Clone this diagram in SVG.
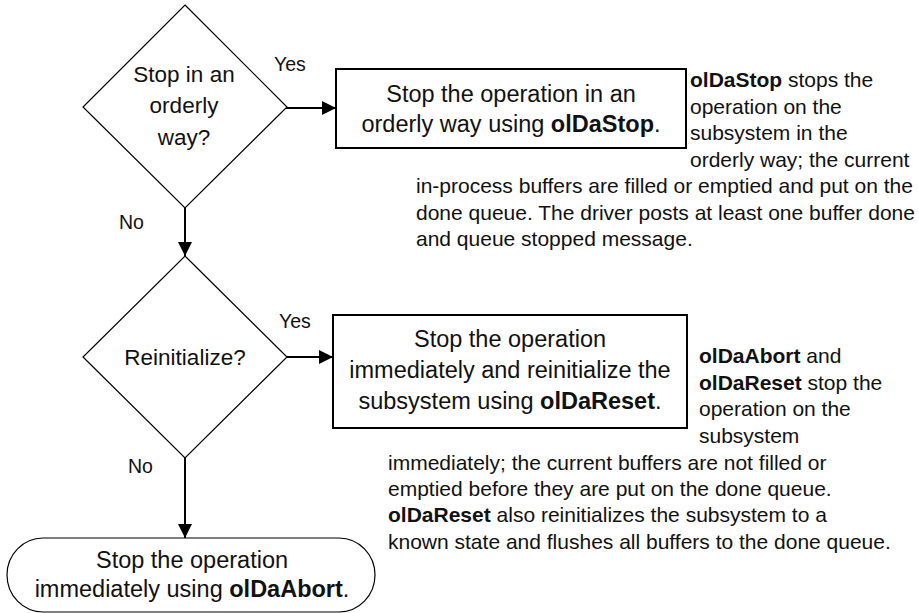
<svg xmlns="http://www.w3.org/2000/svg" width="919" height="613" viewBox="0 0 919 613">
<defs>
<marker id="arr" viewBox="0 0 14 14" refX="14" refY="7" markerWidth="14" markerHeight="14" markerUnits="userSpaceOnUse" orient="auto">
<path d="M0,0 L14,7 L0,14 Z" fill="#000"/>
</marker>
<style>
text{font-family:"Liberation Sans",Arial,Helvetica,sans-serif;fill:#111}
.big{font-size:23.5px;text-anchor:middle}
.dia{font-size:22.5px;text-anchor:middle}
.lbl{font-size:19.5px}
.desc{font-size:21px}
.b{font-weight:bold}
.dshape{fill:#fff;stroke:#000;stroke-width:1.2}
.box{fill:#fff;stroke:#000;stroke-width:2}
.conn{fill:none;stroke:#000;stroke-width:2}
</style>
</defs>
<rect width="919" height="613" fill="#fff"/>
<g id="connectors">
<line class="conn" x1="286" y1="108" x2="336" y2="108" marker-end="url(#arr)"/>
<line class="conn" x1="185" y1="208" x2="185" y2="256" marker-end="url(#arr)"/>
<line class="conn" x1="286" y1="357" x2="333" y2="357" marker-end="url(#arr)"/>
<line class="conn" x1="185" y1="458" x2="185" y2="538" marker-end="url(#arr)"/>
<text class="lbl" x="274" y="71">Yes</text>
<text class="lbl" x="119" y="229">No</text>
<text class="lbl" x="279" y="328">Yes</text>
<text class="lbl" x="128" y="473">No</text>
</g>
<g id="decision1">
<polygon class="dshape" points="185,5 287,107 185,208 83,107"/>
<text class="dia" x="184" y="81.5">Stop in an</text>
<text class="dia" x="184" y="113">orderly</text>
<text class="dia" x="184" y="145">way?</text>
</g>
<g id="stopOrderly">
<rect class="box" x="336" y="69" width="350" height="79"/>
<text class="big" x="511" y="102">Stop the operation in an</text>
<text class="big" x="511" y="132">orderly way using <tspan class="b">olDaStop</tspan>.</text>
</g>
<g id="note1">
<text class="desc" x="690" y="87"><tspan class="b">olDaStop</tspan> stops the</text>
<text class="desc" x="690" y="113.5">operation on the</text>
<text class="desc" x="690" y="140">subsystem in the</text>
<text class="desc" x="690" y="166.5">orderly way; the current</text>
<text class="desc" x="416" y="193">in-process buffers are filled or emptied and put on the</text>
<text class="desc" x="416" y="219.5">done queue. The driver posts at least one buffer done</text>
<text class="desc" x="416" y="246">and queue stopped message.</text>
</g>
<g id="decision2">
<polygon class="dshape" points="185,256 287,357 185,458 83,357"/>
<text class="dia" x="185" y="365">Reinitialize?</text>
</g>
<g id="stopReset">
<rect class="box" x="333" y="315" width="354" height="113"/>
<text class="big" x="510" y="347">Stop the operation</text>
<text class="big" x="510" y="378">immediately and reinitialize the</text>
<text class="big" x="510" y="409">subsystem using <tspan class="b">olDaReset</tspan>.</text>
</g>
<g id="note2">
<text class="desc" x="699" y="363"><tspan class="b">olDaAbort</tspan> and</text>
<text class="desc" x="699" y="389.5"><tspan class="b">olDaReset</tspan> stop the</text>
<text class="desc" x="699" y="416">operation on the</text>
<text class="desc" x="699" y="442.5">subsystem</text>
<text class="desc" x="388" y="469.5">immediately; the current buffers are not filled or</text>
<text class="desc" x="388" y="496">emptied before they are put on the done queue.</text>
<text class="desc" x="388" y="522"><tspan class="b">olDaReset</tspan> also reinitializes the subsystem to a</text>
<text class="desc" x="388" y="548.5">known state and flushes all buffers to the done queue.</text>
</g>
<g id="stopAbort">
<rect class="dshape" x="7" y="538" width="368" height="74" rx="36" ry="37"/>
<text class="big" x="192" y="568">Stop the operation</text>
<text class="big" x="192" y="597">immediately using <tspan class="b">olDaAbort</tspan>.</text>
</g>
</svg>
